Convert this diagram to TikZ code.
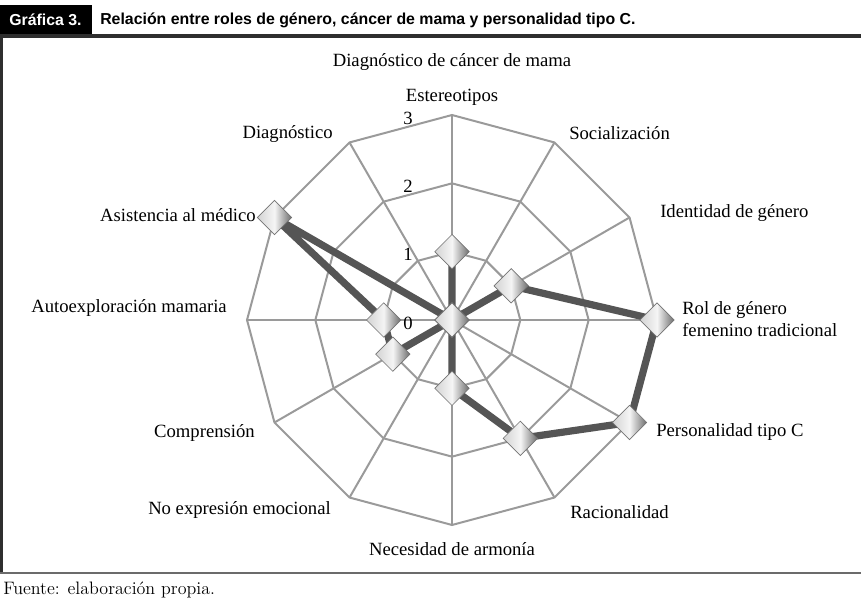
\documentclass[tikz,border=0pt]{standalone}
\usepackage{fontspec}
\newfontfamily\chartfont{Liberation Serif}
\newfontfamily\titlefont{Liberation Sans}
\usetikzlibrary{shapes.geometric, calc}

\definecolor{gridgray}{HTML}{9A9A9A}
\definecolor{seriesgray}{HTML}{555555}
\definecolor{framegray}{HTML}{2E2E2E}
\definecolor{rulegray}{HTML}{6B6B6B}

\begin{document}
\begin{tikzpicture}[
  x=0.75pt, y=0.75pt,
  gridline/.style = {draw=gridgray, line width=1.5pt},
  series/.style = {draw=seriesgray, line width=5.4pt, line join=round},
  marker/.style = {diamond, draw=black!55, line width=0.5pt, inner sep=0pt, minimum size=26pt,
                   left color=gray!35, right color=gray!85!black, middle color=gray!8},
  axislabel/.style = {inner sep=0pt, font=\chartfont\fontsize{14}{17}\selectfont},
  ticklabel/.style = {inner sep=0pt, font=\chartfont\fontsize{14}{17}\selectfont},
  heading/.style = {inner sep=0pt, anchor=west, font=\titlefont\bfseries\fontsize{11.9}{14}\selectfont}
]
\useasboundingbox (0,0) rectangle (861,603);

% Parameters
\def\R{68.33} % one unit of the scale

% Frame and title row
\fill[black] (0,567) rectangle (92,598);
\node[heading, text=white] (tag) at (9,583) {Gráfica 3.};
\node[heading] (title) at (100,583) {Relación entre roles de género, cáncer de mama y personalidad tipo C.};
\draw[framegray, line width=2.4pt] (0,567) -- (861,567);
\draw[framegray, line width=2.4pt] (1.2,567) -- (1.2,30);
\draw[rulegray, line width=1.6pt] (0,30) -- (861,30);
\node[inner sep=0pt, anchor=west, font=\fontsize{13.5}{16}\selectfont] (source) at (3,13) {Fuente: elaboración propia.};

\begin{scope}[shift={(452,283)}]
% Rings and spokes
\foreach \k in {1,2,3}
  \draw[gridline] (0:\k*\R) \foreach \a in {30,60,...,330} { -- (\a:\k*\R) } -- cycle;
\foreach \a in {0,30,...,330}
  \draw[gridline] (0,0) -- (\a:3*\R);

% Scale
\foreach \k in {0,1,2,3}
  \node[ticklabel] (tick\k) at (-44,{\k*\R-3}) {\k};

% Data points
\foreach \a/\v [count=\i] in {90/1,60/0,30/1,0/3,-30/3,-60/2,-90/1,-120/0,-150/1,180/1,150/3,120/0}
  \coordinate (v\i) at (\a:\v*\R);

\draw[series] (v1) -- (v2) -- (v3) -- (v4) -- (v5) -- (v6) -- (v7) -- (v8) -- (v9) -- (v10) -- (v11) -- (v12) -- cycle;

\foreach \i in {1,...,12}
  \node[marker] (m\i) at (v\i) {};
\end{scope}

% Axis labels
\node[axislabel] (caption) at (452,541) {Diagnóstico de cáncer de mama};
\node[axislabel] (estereotipos) at (452,506) {Estereotipos};
\node[axislabel, anchor=west] (socializacion) at (569,470) {Socialización};
\node[axislabel, anchor=west] (identidad) at (660,390) {Identidad de género};
\node[axislabel, anchor=west, align=left] (rol) at (682,284) {Rol de género\\femenino tradicional};
\node[axislabel, anchor=west] (personalidad) at (656,171) {Personalidad tipo C};
\node[axislabel, anchor=west] (racionalidad) at (570,91) {Racionalidad};
\node[axislabel] (armonia) at (452,54) {Necesidad de armonía};
\node[axislabel, anchor=east] (noexpresion) at (331,93) {No expresión emocional};
\node[axislabel, anchor=east] (comprension) at (255,170) {Comprensión};
\node[axislabel, anchor=east] (autoexploracion) at (227,295) {Autoexploración mamaria};
\node[axislabel, anchor=east] (asistencia) at (256,388) {Asistencia al médico};
\node[axislabel, anchor=east] (diagnostico) at (333,469) {Diagnóstico};

\end{tikzpicture}
\end{document}
